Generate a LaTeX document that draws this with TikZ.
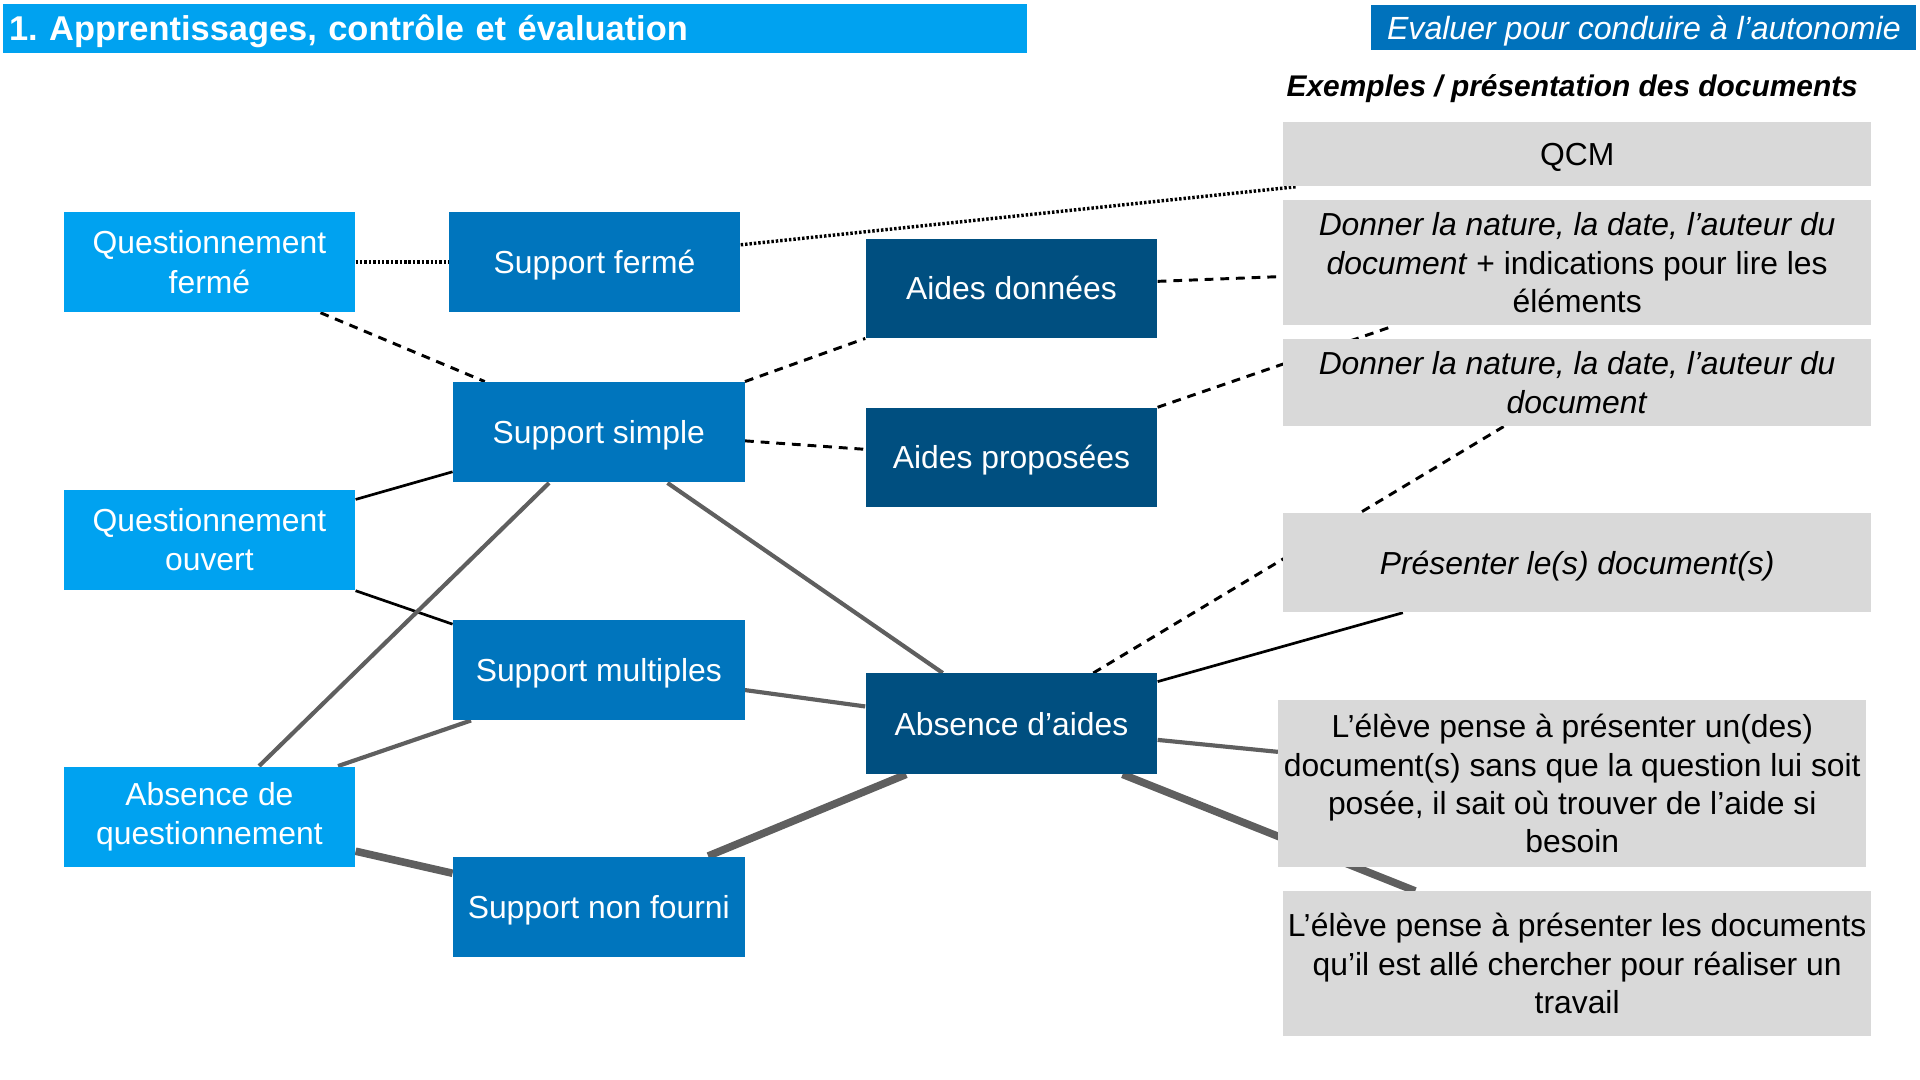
\documentclass[tikz,border=0pt]{standalone}
\usepackage{fontspec}
\setmainfont{Liberation Sans}
\usetikzlibrary{calc}
\pgfdeclarelayer{bg}
\pgfsetlayers{bg,main}
\frenchspacing
\definecolor{lblue}{RGB}{0,162,240}
\definecolor{mblue}{RGB}{0,117,189}
\definecolor{dblue}{RGB}{0,79,128}
\definecolor{hblue}{RGB}{0,114,188}
\definecolor{gbox}{RGB}{217,217,217}
\definecolor{gline}{RGB}{95,95,95}
\tikzset{
 box/.style={rectangle, inner sep=0pt, align=center, font=\fontsize{13pt}{16pt}\selectfont},
 oneline/.style={text height=11.5pt, text depth=2pt},
 qbox/.style={box, fill=lblue, text=white, minimum width=119pt, minimum height=41pt},
 sbox/.style={box, fill=mblue, text=white, minimum width=119pt, minimum height=41pt, oneline},
 abox/.style={box, fill=dblue, text=white, minimum width=119pt, minimum height=40.5pt, oneline},
 gbx/.style={box, fill=gbox, text=black, minimum width=240pt, font=\fontsize{13pt}{15.7pt}\selectfont},
 dotline/.style={line width=1.4pt, dash pattern=on 1pt off 0.8pt, black},
 dashline/.style={line width=1.2pt, dash pattern=on 3.6pt off 2.8pt, black},
 thinline/.style={line width=1.1pt, black},
 midline/.style={line width=1.7pt, gline},
 thickline/.style={line width=3.1pt, gline},
}
\begin{document}
\begin{tikzpicture}[x=0.5pt, y=-0.5pt]
\useasboundingbox (0,0) rectangle (1568,882);
% headers
\node[fill=lblue, text=white, anchor=north west, minimum width=418pt, minimum height=20pt,
      inner xsep=2.5pt, inner ysep=0pt, text width=413pt, align=left, oneline,
      font=\bfseries\fontsize{14.05pt}{17pt}\selectfont] (title) at (2,3)
      {1. Apprentissages, contrôle et évaluation};
\node[fill=hblue, text=white, minimum width=222.5pt, minimum height=18.5pt, inner sep=0pt, oneline,
      font=\itshape\fontsize{13.1pt}{15pt}\selectfont] (hdr) at (1342.5,22.5)
      {Evaluer pour conduire à l’autonomie};
\node[inner sep=0pt, font=\bfseries\itshape\fontsize{12.2pt}{14pt}\selectfont] (ex) at (1284,72)
      {Exemples / présentation des documents};
% left column
\node[qbox] (qf) at (171,214) {Questionnement\\fermé};
\node[qbox] (qo) at (171,441) {Questionnement\\ouvert};
\node[qbox] (aq) at (171,667) {Absence de\\questionnement};
% middle column
\node[sbox] (sf) at (485.5,214) {Support fermé};
\node[sbox] (ss) at (489,353) {Support simple};
\node[sbox] (sm) at (489,547) {Support multiples};
\node[sbox] (snf) at (489,740.5) {Support non fourni};
% third column
\node[abox] (ad) at (826,235.5) {Aides données};
\node[abox] (ap) at (826,373.5) {Aides proposées};
\node[abox, minimum height=41pt] (aa) at (826,591) {Absence d’aides};
% grey boxes
\node[gbx, minimum height=26pt, oneline] (g1) at (1288,126) {QCM};
\node[gbx, minimum height=51pt] (g2) at (1288,214.5) {\textit{Donner la nature, la date, l’auteur du}\\\textit{document} + indications pour lire les\\éléments};
\node[gbx, minimum height=35.5pt] (g3) at (1288,312.5) {\textit{Donner la nature, la date, l’auteur du}\\\textit{document}};
\node[gbx, minimum height=40.5pt, oneline] (g4) at (1288,459.5) {\textit{Présenter le(s) document(s)}};
\node[gbx, minimum height=68pt] (g5) at (1284,640) {L’élève pense à présenter un(des)\\document(s) sans que la question lui soit\\posée, il sait où trouver de l’aide si\\besoin};
\node[gbx, minimum height=59pt] (g6) at (1288,787) {L’élève pense à présenter les documents\\qu’il est allé chercher pour réaliser un\\travail};
% connectors
\begin{pgfonlayer}{bg}
\draw[dotline] (qf.east) -- (sf.west);
\draw[dotline] ($(sf.north east)!0.33!(sf.south east)$) -- ($(g1.south west)!0.025!(g1.south east)$);
\draw[dashline] ($(qf.south west)!0.88!(qf.south east)$) -- ($(ss.north west)!0.11!(ss.north east)$);
\draw[dashline] (ss.north east) -- (ad.south west);
\draw[dashline] ($(ss.north east)!0.585!(ss.south east)$) -- ($(ap.north west)!0.42!(ap.south west)$);
\draw[dashline] ($(ad.north east)!0.43!(ad.south east)$) -- ($(g2.north west)!0.61!(g2.south west)$);
\draw[dashline] (ap.north east) -- ($(g2.south west)!0.19!(g2.south east)$);
\draw[dashline] ($(aa.north west)!0.78!(aa.north east)$) -- ($(g3.south west)!0.375!(g3.south east)$);
\draw[thinline] ($(ss.north west)!0.89!(ss.south west)$) -- ($(qo.north east)!0.1!(qo.south east)$);
\draw[thinline] (qo.south east) -- ($(sm.north west)!0.05!(sm.south west)$);
\draw[midline] ($(ss.south west)!0.33!(ss.south east)$) -- ($(aq.north west)!0.67!(aq.north east)$);
\draw[midline] ($(ss.south west)!0.735!(ss.south east)$) -- ($(aa.north west)!0.265!(aa.north east)$);
\draw[midline] ($(sm.north east)!0.7!(sm.south east)$) -- ($(aa.north west)!0.33!(aa.south west)$);
\draw[midline] ($(sm.south west)!0.063!(sm.south east)$) -- ($(aq.north west)!0.94!(aq.north east)$);
\draw[thickline] ($(aq.north east)!0.84!(aq.south east)$) -- ($(snf.north west)!0.17!(snf.south west)$);
\draw[thickline] ($(snf.north west)!0.874!(snf.north east)$) -- ($(aa.south west)!0.14!(aa.south east)$);
\draw[thinline] ($(aa.north east)!0.085!(aa.south east)$) -- ($(g4.south west)!0.204!(g4.south east)$);
\draw[midline] ($(aa.north east)!0.66!(aa.south east)$) -- ($(g5.north west)!0.31!(g5.south west)$);
\draw[thickline] ($(aa.south west)!0.88!(aa.south east)$) -- ($(g6.north west)!0.225!(g6.north east)$);
\end{pgfonlayer}
\end{tikzpicture}
\end{document}
